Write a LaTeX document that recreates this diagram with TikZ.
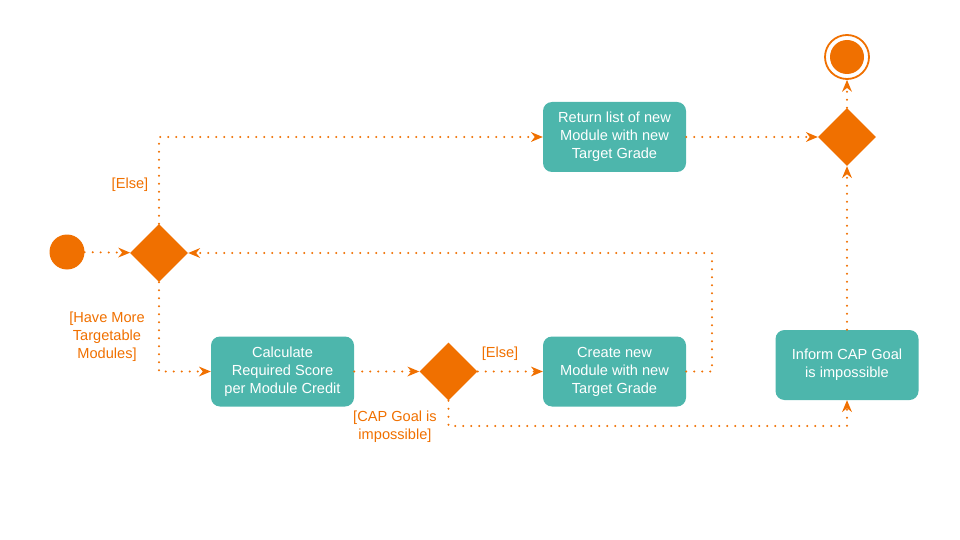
\documentclass[tikz,border=0pt]{standalone}
\usepackage{fontspec}
\setmainfont{Liberation Sans}
\usetikzlibrary{arrows.meta,shapes.geometric}
\definecolor{umlorange}{HTML}{F07000}
\definecolor{umlteal}{HTML}{4DB6AC}
\begin{document}
\begin{tikzpicture}[x=1pt,y=-1pt,
  act/.style={fill=umlteal,draw=none,rounded corners=9pt,minimum width=143pt,minimum height=70pt,
    text=white,align=center,font=\fontsize{14.6}{18}\selectfont,inner sep=0pt},
  dec/.style={diamond,fill=umlorange,draw=none,minimum width=58pt,minimum height=58pt,inner sep=0pt},
  flow/.style={draw=umlorange,line width=2.2pt,line cap=round,dash pattern=on 0pt off 8pt,
    -{Stealth[length=12pt,width=10pt,inset=4pt,line cap=butt,line width=0pt,sep=0pt]}},
  lbl/.style={text=umlorange,align=center,font=\fontsize{14.6}{18}\selectfont,inner sep=0pt}]
\useasboundingbox (0,0) rectangle (960,540);
% nodes
\node[circle,fill=umlorange,minimum size=35pt,inner sep=0pt] (start) at (67,252) {};
\node[dec] (d1) at (159,253) {};
\node[act] (ret) at (614.5,137) {Return list of new\\Module with new\\Target Grade};
\node[dec] (d3) at (847,137) {};
\node[circle,draw=umlorange,line width=1.8pt,minimum size=44pt,inner sep=0pt] (endo) at (847,57) {};
\node[circle,fill=umlorange,minimum size=34pt,inner sep=0pt] (endi) at (847,57) {};
\node[act] (calc) at (282.5,371.5) {Calculate\\Required Score\\per Module Credit};
\node[dec] (d2) at (448.5,371.5) {};
\node[act] (create) at (614.5,371.5) {Create new\\Module with new\\Target Grade};
\node[act] (inform) at (847,365) {Inform CAP Goal\\is impossible};
% corners
\coordinate (c1) at (159,137);
\coordinate (c2) at (159,371.5);
\coordinate (c3) at (712,371.5);
\coordinate (c4) at (712,253);
\coordinate (c5) at (448.5,426);
\coordinate (c6) at (847,426);
% connectors
\draw[flow] (start) -- (d1);
\draw[flow] (d1.north) -- (c1) -- (ret.west);
\draw[flow] (d1.south) -- (c2) -- (calc.west);
\draw[flow] (calc) -- (d2);
\draw[flow] (d2) -- (create);
\draw[flow] (create.east) -- (c3) -- (c4) -- (d1.east);
\draw[flow] (d2.south) -- (c5) -- (c6) -- (inform.south);
\draw[flow] (inform.north) -- (d3.south);
\draw[flow] (ret.east) -- (d3.west);
\draw[flow] (d3.north) -- (endo.south);
% labels
\node[lbl] (l1) at (130,185) {[Else]};
\node[lbl] (l2) at (107,337) {[Have More\\Targetable\\Modules]};
\node[lbl] (l3) at (500,354) {[Else]};
\node[lbl] (l4) at (395,427) {[CAP Goal is\\impossible]};
\end{tikzpicture}
\end{document}
